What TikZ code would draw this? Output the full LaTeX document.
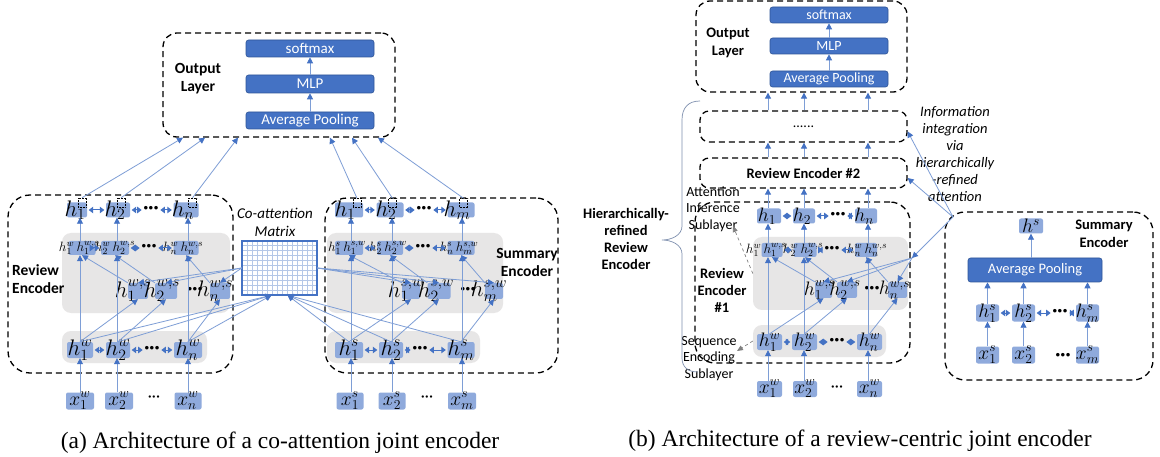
\RequirePackage{fix-cm}
\documentclass[tikz,border=0pt]{standalone}
\usepackage{fontspec}
\setmainfont{Liberation Serif}
\newfontfamily\calib{Carlito}
\usetikzlibrary{arrows.meta,calc,positioning}

\definecolor{boxblue}{HTML}{8FAADC}
\definecolor{deepblue}{HTML}{4472C4}
\definecolor{edgeblue}{HTML}{2F5597}
\definecolor{wireblue}{HTML}{7E9ED6}
\definecolor{regiongray}{HTML}{E7E6E6}
\definecolor{gridblue}{HTML}{B4C7E7}

\tikzset{
  cellbox/.style={fill=boxblue, rounded corners=2pt, inner sep=0pt, minimum height=15pt},
  layerbox/.style={fill=deepblue, draw=edgeblue, line width=0.6pt, rounded corners=2.5pt, inner sep=0pt,
    text=white, font=\calib\fontsize{15}{15}\selectfont},
  encbox/.style={draw, line width=1.3pt, dash pattern=on 6pt off 4pt, rounded corners=18pt},
  region/.style={fill=regiongray, rounded corners=9pt},
  wire/.style={draw=wireblue, line width=0.8pt, -{Triangle[length=6pt,width=6pt,color=deepblue]}},
  swap/.style={draw=deepblue, line width=1pt, shorten <=1.5pt, shorten >=1.5pt,
    {Triangle[length=4.5pt,width=6.5pt]}-{Triangle[length=4.5pt,width=6.5pt]}},
  hintline/.style={draw=gray, line width=0.7pt, dashed, -{Triangle[length=6pt,width=5pt]}},
  dotsq/.style={draw, densely dotted, line width=0.5pt, inner sep=0pt, minimum width=8pt, minimum height=9pt},
  vbig/.style={font=\fontsize{22.5}{22.5}\selectfont, inner sep=0pt},
  vmid/.style={font=\fontsize{19.5}{19.5}\selectfont, inner sep=0pt},
  vsmall/.style={font=\fontsize{13.5}{13.5}\selectfont, inner sep=0pt},
  ellip/.style={font=\calib\bfseries\fontsize{19}{19}\selectfont, inner sep=0pt},
  lightellip/.style={font=\calib\fontsize{16}{16}\selectfont, inner sep=0pt},
  heading/.style={font=\calib\bfseries\fontsize{15.5}{18}\selectfont, align=center, inner sep=0pt},
  plainlab/.style={font=\calib\fontsize{14}{16.5}\selectfont, align=center, inner sep=0pt},
  slantlab/.style={font=\calib\itshape\fontsize{14.5}{17}\selectfont, align=center, inner sep=0pt},
  caption/.style={font=\fontsize{23.5}{26}\selectfont, inner sep=0pt},
}

\begin{document}
\begin{tikzpicture}[x=1pt, y=-1pt]
\fill[white] (0,0) rectangle (1160,457);
\useasboundingbox (0,0) rectangle (1160,457);

% ===== (a) co-attention joint encoder =====
\node[encbox, minimum width=232pt, minimum height=104pt, rounded corners=14pt] (outA) at (279,85) {};
\node[layerbox, minimum width=128pt, minimum height=17pt] (softA) at (310,48.5) {softmax};
\node[layerbox, minimum width=128pt, minimum height=18pt] (mlpA) at (310,84) {MLP};
\node[layerbox, minimum width=128pt, minimum height=17pt] (poolA) at (310,120.5) {Average Pooling};
\node[heading] (outlabA) at (198,79) {Output\\Layer};
\draw[wire] (poolA) -- (mlpA);
\draw[wire] (mlpA) -- (softA);

\node[region, minimum width=168pt, minimum height=80pt] (midL) at (146,273) {};
\node[region, minimum width=145pt, minimum height=32pt] (lowL) at (134.5,347) {};
\node[region, minimum width=176pt, minimum height=80pt] (midR) at (415,273) {};
\node[region, minimum width=153pt, minimum height=32pt] (lowR) at (403.5,347) {};
\node[encbox, minimum width=225pt, minimum height=178pt, rounded corners=22pt] (revA) at (120.5,284) {};
\node[encbox, minimum width=233pt, minimum height=175pt, rounded corners=22pt] (sumA) at (441.5,285.5) {};
\node[heading, align=left, anchor=west] (revlabA) at (12,279) {Review\\Encoder};
\node[heading] (sumlabA) at (527,262) {Summary\\Encoder};

% co-attention matrix
\node[fill=white, minimum width=75pt, minimum height=54pt, inner sep=0pt] (coatt) at (279.5,268) {};
\foreach \k in {1,...,14}
  \draw[gridblue, line width=0.6pt] ($(coatt.south west)!\k/15!(coatt.south east)$) -- ($(coatt.north west)!\k/15!(coatt.north east)$);
\foreach \k in {1,...,10}
  \draw[gridblue, line width=0.6pt] ($(coatt.south west)!\k/11!(coatt.north west)$) -- ($(coatt.south east)!\k/11!(coatt.north east)$);
\draw[deepblue, line width=1.5pt] (coatt.south west) rectangle (coatt.north east);
\node[slantlab, font=\calib\itshape\fontsize{15}{18}\selectfont] (coattlab) at (275,222) {Co-attention\\Matrix};

% cells
\foreach \id/\px/\w/\dx/\lab in {lt1/77/20/-2/h_1, lt2/118/24/-3/h_2, ltn/186/25/-3/h_n,
    rt1/349/28/-4/h_1, rt2/390/27/-4/h_2, rtm/461/27/-4/h_m}{
  \node[cellbox, minimum width=\w pt] (\id) at (\px,210) {};
  \node[vbig] (\id-t) at ([xshift=\dx pt]\id.center) {$\lab$};
}
\foreach \id/\px/\py in {lt1q/82/202.5, lt2q/121/202.5, ltnq/192.5/202.5, rt1q/357/203, rt2q/392.5/203, rtmq/463.5/203}
  \node[dotsq] (\id) at (\px,\py) {};
\foreach \id/\px/\w/\dx/\lab in {lr1/82/27/-3/{h_1^w\,h_1^{w,s}}, lr2/115/28/0/{h_2^w\,h_2^{w,s}}, lrn/186/25/-3/{h_n^w\,h_n^{w,s}},
    rr1/349/28/-2/{h_1^s\,h_1^{s,w}}, rr2/390/26/-2/{h_2^s\,h_2^{s,w}}, rrm/461/27/-2/{h_n^s\,h_m^{s,w}}}{
  \node[cellbox, minimum width=\w pt, minimum height=14pt] (\id) at (\px,248) {};
  \node[vsmall] (\id-t) at ([xshift=\dx pt]\id.center) {$\lab$};
}
\foreach \id/\px/\w/\dx/\lab in {lq1/138/20/-5/{h_1^{w,s}}, lq2/166/22/-4/{h_2^{w,s}}, lqn/220/20/-5/{h_n^{w,s}},
    rq1/411/18/-5/{h_1^{s,w}}, rq2/439/23/-3/{h_2^{s,w}}, rqm/494/18/-5/{h_m^{s,w}}}{
  \node[cellbox, minimum width=\w pt, minimum height=16pt] (\id) at (\px,291) {};
  \node[vbig] (\id-t) at ([xshift=\dx pt]\id.center) {$\lab$};
}
\foreach \id/\px/\w/\lab in {lh1/80/26/h_1^w, lh2/118/24/h_2^w, lhn/188/28/h_n^w,
    rh1/349/28/h_1^s, rh2/391/24/h_2^s, rhm/461/27/h_m^s}{
  \node[cellbox, minimum width=\w pt, minimum height=16pt] (\id) at (\px,350) {};
  \node[vbig] (\id-t) at (\id.center) {$\lab$};
}
\foreach \id/\px/\w/\lab in {lx1/80/28/x_1^w, lx2/119/28/x_2^w, lxn/188/27/x_n^w,
    rx1/350/27/x_1^s, rx2/392/27/x_2^s, rxm/462/28/x_m^s}{
  \node[cellbox, minimum width=\w pt, minimum height=17pt] (\id) at (\px,401) {};
  \node[vmid] (\id-t) at (\id.center) {$\lab$};
}
\foreach \id/\px/\py in {ltd/151/210, lrd/149/248, lqd/195/291, lhd/152/350,
    rtd/424/210, rrd/423/248, rqd/468/291, rhd/420/350}
  \node[ellip] (\id) at (\px,\py) {···};
\node[lightellip] (lxd) at (154,399) {···};
\node[lightellip] (rxd) at (427,399) {···};

\foreach \a/\b in {lt1/lt2, lt2/ltd, ltd/ltn, lr1/lr2, lr2/lrd, lrd/lrn, lh1/lh2, lh2/lhd, lhd/lhn,
    rt1/rt2, rt2/rtd, rtd/rtm, rr1/rr2, rr2/rrd, rrd/rrm, rh1/rh2, rh2/rhd, rhd/rhm}
  \draw[swap] (\a) -- (\b);

% connectors (a)
\coordinate (ca1) at (80,0);
\coordinate (ca2) at (117,0);
\coordinate (can) at (188,0);
\coordinate (cb1) at (351,0);
\coordinate (cb2) at (392,0);
\coordinate (cbm) at (462,0);
\foreach \col/\inn/\hid/\mix/\upp in {ca1/lx1/lh1/lr1/lt1, ca2/lx2/lh2/lr2/lt2, can/lxn/lhn/lrn/ltn,
    cb1/rx1/rh1/rr1/rt1, cb2/rx2/rh2/rr2/rt2, cbm/rxm/rhm/rrm/rtm}{
  \draw[wire] (\inn.north -| \col) -- (\hid.south -| \col);
  \draw[wire] (\hid.north -| \col) -- (\mix.south -| \col);
  \draw[wire] (\mix.north -| \col) -- (\upp.south -| \col);
}
\foreach \hid/\q/\mix in {lh1/lq1/lr1, lh2/lq2/lr2, lhn/lqn/lrn, rh1/rq1/rr1, rh2/rq2/rr2, rhm/rqm/rrm}{
  \draw[wire] (\hid.north) -- (\q.south);
  \draw[wire] (\q.north west) -- (\mix.south);
}
\foreach \q in {lq1,lq2,lqn}
  \draw[wire] (coatt.west) -- (\q.north);
\foreach \q in {rq1,rq2,rqm}
  \draw[wire] (coatt.east) -- (\q.north);
\foreach \hid in {lh1,lh2,lhn}
  \draw[wire] (\hid.north) -- ([xshift=-8pt]coatt.south);
\foreach \hid in {rh1,rh2,rhm}
  \draw[wire] (\hid.north) -- ([xshift=8pt]coatt.south);
\foreach \s/\dx in {lt1q/-96, lt2q/-74, ltnq/-41, rt1q/51, rt2q/73, rtmq/99}
  \draw[wire] (\s.north) -- ([xshift=\dx pt]outA.south);

\node[caption] (capA) at (280,443) {(a) Architecture of a co-attention joint encoder};

% ===== (b) review-centric joint encoder =====
\node[encbox, minimum width=211pt, minimum height=91pt, rounded corners=14pt] (outB) at (801.5,46.5) {};
\node[layerbox, minimum width=118pt, minimum height=16pt, font=\calib\fontsize{14}{14}\selectfont] (softB) at (829,15) {softmax};
\node[layerbox, minimum width=118pt, minimum height=16pt, font=\calib\fontsize{14}{14}\selectfont] (mlpB) at (829,46) {MLP};
\node[layerbox, minimum width=118pt, minimum height=16pt, font=\calib\fontsize{14}{14}\selectfont] (poolB) at (829,79) {Average Pooling};
\node[heading, font=\calib\bfseries\fontsize{14.5}{18}\selectfont] (outlabB) at (728,42.5) {Output\\Layer};
\draw[wire] (poolB) -- (mlpB);
\draw[wire] (mlpB) -- (softB);
\node[encbox, minimum width=207pt, minimum height=31pt, rounded corners=9pt, font=\calib\fontsize{14}{14}\selectfont] (moreB) at (803.5,126.5) {......};
\node[encbox, minimum width=207pt, minimum height=30pt, rounded corners=9pt, font=\calib\bfseries\fontsize{14.5}{14.5}\selectfont] (enc2B) at (803.5,173) {Review Encoder \#2};

\node[region, minimum width=155pt, minimum height=73pt] (midB) at (830.5,273.5) {};
\node[region, minimum width=133pt, minimum height=32pt] (lowB) at (819.5,341) {};
\node[encbox, minimum width=215pt, minimum height=161pt, rounded corners=20pt] (enc1B) at (802.5,282.5) {};

\node[heading, font=\calib\bfseries\fontsize{14.5}{17}\selectfont] (enc1lab) at (722,290) {Review\\Encoder\\\#1};
\node[heading, font=\calib\bfseries\fontsize{14.5}{17}\selectfont] (hierlab) at (626,238.5) {Hierarchically-\\refined\\Review\\Encoder};
\node[plainlab] (attlab) at (713,209) {Attention\\Inference\\Sublayer};
\node[plainlab] (seqlab) at (709,358.5) {Sequence\\Encoding\\Sublayer};
\node[slantlab] (infolab) at (955,154.5) {Information\\integration\\via\\hierarchically\\-refined\\attention};

\draw[gray!45!wireblue, line width=0.7pt] (700,101) .. controls (688,101) and (682,108) .. (682,120) -- (682,226)
  .. controls (682,235) and (672,240) .. (662,240) .. controls (672,240) and (682,245) .. (682,254) -- (682,358)
  .. controls (682,367) and (688,372) .. (698,372);

\foreach \id/\px/\w/\dx/\lab in {bt1/769/24/-2/h_1, bt2/804/22/-2/h_2, btn/866/22/-2/h_n}{
  \node[cellbox, minimum width=\w pt] (\id) at (\px,216) {};
  \node[vmid] (\id-t) at ([xshift=\dx pt]\id.center) {$\lab$};
}
\foreach \id/\px/\w/\dx/\lab in {br1/772/21/-6/{h_1^w\,h_1^{w,s}}, br2/805/23/-2/{h_2^w\,h_2^{w,s}}, brn/866/22/1/{h_n^w\,h_n^{w,s}}}{
  \node[cellbox, minimum width=\w pt, minimum height=14pt] (\id) at (\px,250) {};
  \node[vsmall] (\id-t) at ([xshift=\dx pt]\id.center) {$\lab$};
}
\foreach \id/\px/\w/\dx/\lab in {bq1/823.5/17/-4/{h_1^{w,s}}, bq2/847/20/-2/{h_2^{w,s}}, bqn/897.5/19/-3/{h_n^{w,s}}}{
  \node[cellbox, minimum width=\w pt, minimum height=16pt] (\id) at (\px,290) {};
  \node[vmid] (\id-t) at ([xshift=\dx pt]\id.center) {$\lab$};
}
\foreach \id/\px/\w/\lab in {bh1/769.5/25/h_1^w, bh2/804.5/25/h_2^w, bhn/869.5/25/h_n^w}{
  \node[cellbox, minimum width=\w pt, minimum height=16pt] (\id) at (\px,342) {};
  \node[vmid] (\id-t) at (\id.center) {$\lab$};
}
\foreach \id/\px/\w/\lab in {bx1/769.5/25/x_1^w, bx2/805/24/x_2^w, bxn/869.5/25/x_n^w}{
  \node[cellbox, minimum width=\w pt, minimum height=16pt] (\id) at (\px,389) {};
  \node[vmid] (\id-t) at (\id.center) {$\lab$};
}
\foreach \id/\px/\py in {btd/838/216, brd/832/250, bqd/872/290, bhd/837/342}
  \node[ellip] (\id) at (\px,\py) {···};
\node[lightellip] (bxd) at (837,389) {···};
\foreach \a/\b in {bt1/bt2, bt2/btd, btd/btn, br1/br2, br2/brd, brd/brn, bh1/bh2, bh2/bhd, bhd/bhn}
  \draw[swap] (\a) -- (\b);

\coordinate (cc1) at (768,0);
\coordinate (cc2) at (804,0);
\coordinate (ccn) at (868,0);
\foreach \col in {cc1,cc2,ccn}{
  \draw[wire] (moreB.north -| \col) -- (outB.south -| \col);
  \draw[wire] (enc2B.north -| \col) -- (moreB.south -| \col);
}
\foreach \col/\inn/\hid/\mix/\upp in {cc1/bx1/bh1/br1/bt1, cc2/bx2/bh2/br2/bt2, ccn/bxn/bhn/brn/btn}{
  \draw[wire] (\inn.north -| \col) -- (\hid.south -| \col);
  \draw[wire] (\hid.north -| \col) -- (\mix.south -| \col);
  \draw[wire] (\mix.north -| \col) -- (\upp.south -| \col);
  \draw[wire] (\upp.north -| \col) -- (enc2B.south -| \col);
}
\foreach \hid/\q/\mix in {bh1/bq1/br1, bh2/bq2/br2, bhn/bqn/brn}{
  \draw[wire] (\hid.north) -- (\q.south);
  \draw[wire] (\q.north west) -- (\mix.south);
}
\coordinate (attend) at (733,226);
\coordinate (seqend) at (737,351);
\draw[hintline] (midB.west) -- (attend);
\draw[hintline] (lowB.west) -- (seqend);

% summary encoder (b)
\node[encbox, minimum width=208pt, minimum height=168pt, rounded corners=20pt] (sumB) at (1049,296) {};
\node[heading, font=\calib\bfseries\fontsize{14.5}{18}\selectfont] (sumlabB) at (1104,234) {Summary\\Encoder};
\node[cellbox, minimum width=24pt] (hsB) at (1031,226) {};
\node[vmid] (hsB-t) at (hsB.center) {$h^s$};
\node[layerbox, minimum width=134pt, minimum height=24pt, font=\calib\fontsize{14.5}{14.5}\selectfont] (spoolB) at (1035,270) {Average Pooling};
\foreach \id/\px/\lab in {sh1/987.5/h_1^s, sh2/1023.5/h_2^s, shm/1087.5/h_m^s}{
  \node[cellbox, minimum width=23pt, minimum height=17pt] (\id) at (\px,313) {};
  \node[vmid] (\id-t) at (\id.center) {$\lab$};
}
\foreach \id/\px/\lab in {sx1/987.5/x_1^s, sx2/1023.5/x_2^s, sxm/1087.5/x_m^s}{
  \node[cellbox, minimum width=23pt, minimum height=17pt] (\id) at (\px,355) {};
  \node[vmid] (\id-t) at (\id.center) {$\lab$};
}
\node[ellip] (shd) at (1060,313) {···};
\node[ellip] (sxd) at (1063,357) {···};
\foreach \a/\b in {sh1/sh2, sh2/shd, shd/shm}
  \draw[swap] (\a) -- (\b);
\foreach \inn/\hid in {sx1/sh1, sx2/sh2, sxm/shm}{
  \draw[wire] (\inn) -- (\hid);
  \draw[wire] (\hid.north) -- (spoolB.south -| \hid);
}
\draw[wire] (spoolB.north -| hsB) -- (hsB);

% refined attention from the summary side
\coordinate (hub) at (953,217);
\coordinate (hubin) at (912,258);
\draw[wire] (hub) -- ([yshift=-5pt]moreB.east);
\draw[wire] (hub) -- ([yshift=-5pt]enc2B.east);
\draw[wire] (hub) -- (hubin);
\foreach \q in {bq1,bq2,bqn}
  \draw[wire] (hubin) -- (\q.north);

\node[caption] (capB) at (860,441) {(b) Architecture of a review-centric joint encoder};
\end{tikzpicture}
\end{document}
